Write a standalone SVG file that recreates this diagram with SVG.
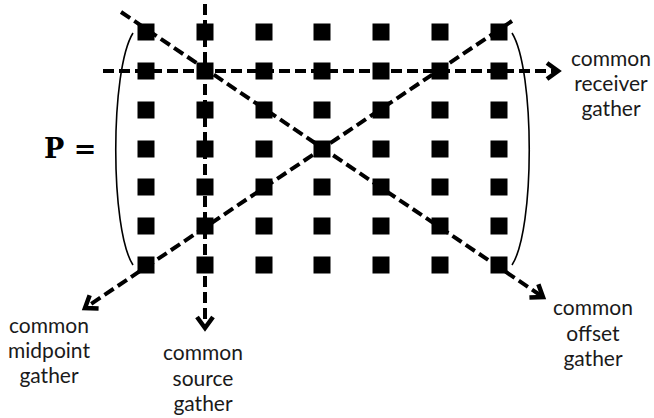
<svg xmlns="http://www.w3.org/2000/svg" width="654" height="418" viewBox="0 0 654 418">
<defs>
<style>
.sq{fill:#000}
.dash{fill:none;stroke:#000;stroke-width:4;stroke-dasharray:11 5;marker-end:url(#arr)}
.paren{fill:none;stroke:#000;stroke-width:1.6}
.lbl{font-family:Lato,"Open Sans","Liberation Sans",sans-serif;font-size:21px;fill:#1a1a1a;text-anchor:middle}
.eq{font-family:"DejaVu Serif","Liberation Serif",serif;font-size:27px;font-weight:bold;fill:#000}
</style>
<marker id="arr" markerUnits="userSpaceOnUse" markerWidth="30" markerHeight="30" viewBox="-15 -15 30 30" refX="0" refY="0" orient="auto">
<path d="M-11,-8 L0,0 L-11,8" fill="none" stroke="#000" stroke-width="4.5" stroke-linejoin="miter"/>
</marker>
<rect id="s" class="sq" x="-8.5" y="-8.5" width="17" height="17"/>
</defs>
<g id="matrix">
<text class="eq" x="44" y="158">P =</text>
<path class="paren" d="M133,33 C110,70 110,230 133,265"/>
<path class="paren" d="M512,33 C535,70 535,230 512,265"/>
<g id="grid">
<use href="#s" x="146" y="32"/><use href="#s" x="205" y="32"/><use href="#s" x="264" y="32"/><use href="#s" x="322" y="32"/><use href="#s" x="381" y="32"/><use href="#s" x="440" y="32"/><use href="#s" x="499" y="32"/>
<use href="#s" x="146" y="71"/><use href="#s" x="205" y="71"/><use href="#s" x="264" y="71"/><use href="#s" x="322" y="71"/><use href="#s" x="381" y="71"/><use href="#s" x="440" y="71"/><use href="#s" x="499" y="71"/>
<use href="#s" x="146" y="110"/><use href="#s" x="205" y="110"/><use href="#s" x="264" y="110"/><use href="#s" x="322" y="110"/><use href="#s" x="381" y="110"/><use href="#s" x="440" y="110"/><use href="#s" x="499" y="110"/>
<use href="#s" x="146" y="149"/><use href="#s" x="205" y="149"/><use href="#s" x="264" y="149"/><use href="#s" x="322" y="149"/><use href="#s" x="381" y="149"/><use href="#s" x="440" y="149"/><use href="#s" x="499" y="149"/>
<use href="#s" x="146" y="187"/><use href="#s" x="205" y="187"/><use href="#s" x="264" y="187"/><use href="#s" x="322" y="187"/><use href="#s" x="381" y="187"/><use href="#s" x="440" y="187"/><use href="#s" x="499" y="187"/>
<use href="#s" x="146" y="226"/><use href="#s" x="205" y="226"/><use href="#s" x="264" y="226"/><use href="#s" x="322" y="226"/><use href="#s" x="381" y="226"/><use href="#s" x="440" y="226"/><use href="#s" x="499" y="226"/>
<use href="#s" x="146" y="265"/><use href="#s" x="205" y="265"/><use href="#s" x="264" y="265"/><use href="#s" x="322" y="265"/><use href="#s" x="381" y="265"/><use href="#s" x="440" y="265"/><use href="#s" x="499" y="265"/>
</g>
</g>
<g id="connectors">
<line class="dash" x1="103" y1="71" x2="558" y2="71"/>
<line class="dash" x1="205" y1="4" x2="205" y2="328"/>
<line class="dash" x1="121" y1="12" x2="543" y2="297"/>
<line class="dash" x1="512" y1="21" x2="85" y2="308"/>
</g>
<g id="receiver"><text class="lbl" x="611"><tspan x="611" y="66">common</tspan><tspan x="611" y="91">receiver</tspan><tspan x="611" y="116">gather</tspan></text></g>
<g id="midpoint"><text class="lbl" x="49"><tspan x="49" y="333">common</tspan><tspan x="49" y="358">midpoint</tspan><tspan x="49" y="383">gather</tspan></text></g>
<g id="source"><text class="lbl" x="203"><tspan x="203" y="360">common</tspan><tspan x="203" y="386">source</tspan><tspan x="203" y="411">gather</tspan></text></g>
<g id="offset"><text class="lbl" x="593"><tspan x="593" y="315">common</tspan><tspan x="593" y="341">offset</tspan><tspan x="593" y="366">gather</tspan></text></g>
</svg>
